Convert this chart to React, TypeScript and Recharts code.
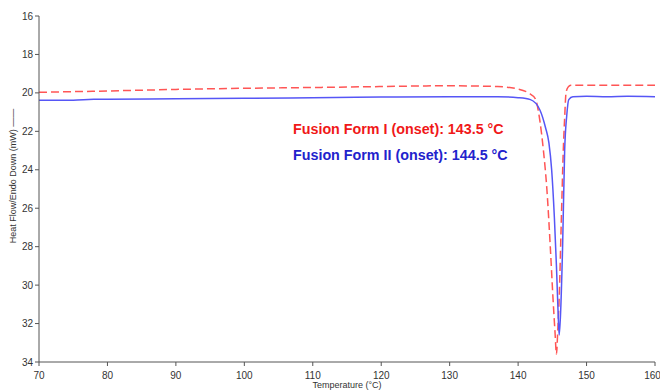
import { LineChart, Line, XAxis, YAxis } from "recharts";

const formITemp = [70, 80, 90, 100, 110, 120, 130, 137, 140, 141.5, 142.5, 143.2, 143.7, 144.2, 144.7, 145.1, 145.4, 145.6, 145.8, 146.0, 146.3, 146.6, 146.8, 147.0, 147.3, 147.7, 150, 155, 160];
const formIFlow = [19.97, 19.9, 19.82, 19.76, 19.72, 19.67, 19.63, 19.67, 19.8, 20.0, 20.3, 21.5, 23.0, 25.0, 28.0, 30.7, 32.5, 33.6, 32.3, 30.7, 26.8, 23.0, 21.3, 20.0, 19.7, 19.6, 19.6, 19.6, 19.6];

const formIITemp = [70, 75, 78, 80, 90, 100, 110, 120, 130, 137, 140, 141.8, 143.2, 144.0, 144.5, 144.9, 145.3, 145.6, 145.85, 146.0, 146.2, 146.5, 146.8, 147.1, 147.4, 148, 150, 153, 156, 160];
const formIIFlow = [20.38, 20.38, 20.33, 20.33, 20.3, 20.28, 20.25, 20.22, 20.2, 20.2, 20.25, 20.35, 20.9, 21.8, 22.6, 24.0, 26.5, 29.0, 31.5, 32.6, 31.5, 28.0, 23.0, 21.2, 20.35, 20.2, 20.18, 20.2, 20.18, 20.2];

const xTicks = [70, 80, 90, 100, 110, 120, 130, 140, 150, 160];
const yTicks = [16, 18, 20, 22, 24, 26, 28, 30, 32, 34];

const formI = formITemp.map((t, i) => ({ t, v: formIFlow[i] }));
const formII = formIITemp.map((t, i) => ({ t, v: formIIFlow[i] }));

const font = "'Liberation Sans', Arial, sans-serif";
const tickStyle = { fontSize: 10, fill: "#333", fontFamily: font };

export default function App() {
  return (
    <div style={{ position: "absolute", left: 0, top: 0, width: 660, height: 390, background: "#fff" }}>
      <LineChart width={660} height={390} margin={{ top: 16, right: 5, bottom: 0, left: 9 }}>
        <XAxis
          type="number"
          dataKey="t"
          domain={[70, 160]}
          ticks={xTicks}
          allowDataOverflow
          height={28}
          stroke="#555"
          tickSize={4}
          tickMargin={6}
          tick={tickStyle}
          label={{ value: "Temperature (°C)", position: "insideBottom", offset: 2, style: { fontSize: 9, fill: "#333", fontFamily: font } }}
        />
        <YAxis
          type="number"
          dataKey="v"
          domain={[16, 34]}
          ticks={yTicks}
          reversed
          allowDataOverflow
          width={30}
          stroke="#555"
          tickSize={4}
          tick={tickStyle}
        />
        <Line data={formI} dataKey="v" type="monotone" stroke="#f55" strokeWidth={1.5} strokeDasharray="8 4" dot={false} isAnimationActive={false} />
        <Line data={formII} dataKey="v" type="monotone" stroke="#5656f6" strokeWidth={1.5} dot={false} isAnimationActive={false} />
      </LineChart>
      <div
        style={{
          position: "absolute",
          left: 13,
          top: 176,
          transform: "translate(-50%, -50%) rotate(-90deg)",
          whiteSpace: "nowrap",
          fontSize: 9,
          color: "#333",
          fontFamily: font,
        }}
      >
        Heat Flow/Endo Down (mW) ——
      </div>
      <div style={{ position: "absolute", left: 293, top: 121, fontSize: 14.3, fontWeight: "bold", color: "#f01818", fontFamily: font }}>
        Fusion Form I (onset): 143.5 °C
      </div>
      <div style={{ position: "absolute", left: 293, top: 147, fontSize: 14.3, fontWeight: "bold", color: "#2222cc", fontFamily: font }}>
        Fusion Form II (onset): 144.5 °C
      </div>
    </div>
  );
}
